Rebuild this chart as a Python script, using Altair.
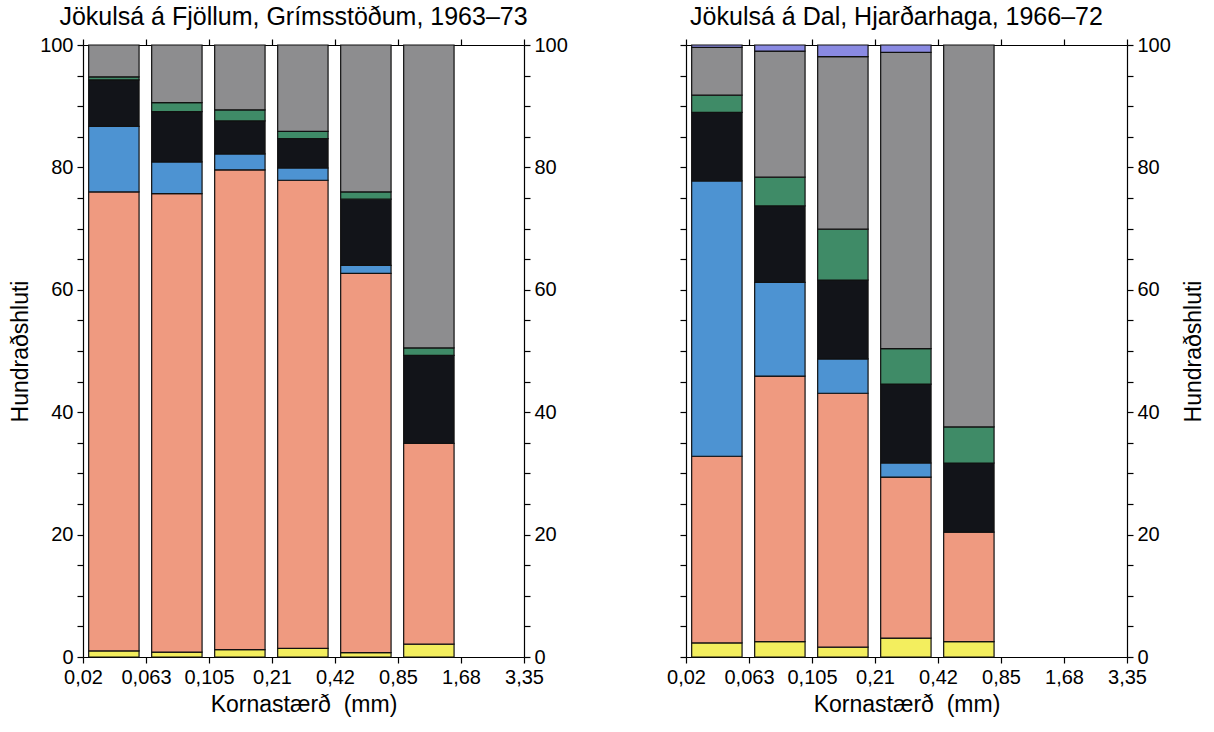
import altair as alt
import pandas as pd

bin_labels = ["0,02", "0,063", "0,105", "0,21", "0,42", "0,85", "1,68", "3,35"]
layers = ["yellow", "salmon", "blue", "black", "green", "gray", "purple"]
colors = ["#f3ee5e", "#ef9a80", "#4d93d2", "#121419", "#3f8b67", "#8d8d8f", "#8a8ae2"]

title_left = "Jökulsá á Fjöllum, Grímsstöðum, 1963–73"
title_right = "Jökulsá á Dal, Hjarðarhaga, 1966–72"
x_title = "Kornastærð\u00a0 (mm)"
y_title = "Hundraðshluti"

left_yellow = [1.0, 0.8, 1.2, 1.4, 0.7, 2.1]
left_salmon = [75.0, 74.9, 78.4, 76.5, 62.0, 32.8]
left_blue = [10.7, 5.2, 2.6, 2.0, 1.3, 0.0]
left_black = [7.6, 8.2, 5.4, 4.8, 10.8, 14.4]
left_green = [0.5, 1.5, 1.8, 1.2, 1.2, 1.2]
left_gray = [5.2, 9.4, 10.6, 14.1, 24.0, 49.5]
left_purple = [0.0, 0.0, 0.0, 0.0, 0.0, 0.0]

right_yellow = [2.3, 2.5, 1.6, 3.1, 2.5]
right_salmon = [30.5, 43.4, 41.5, 26.3, 17.9]
right_blue = [45.0, 15.3, 5.6, 2.3, 0.0]
right_black = [11.2, 12.5, 12.9, 12.9, 11.3]
right_green = [2.8, 4.7, 8.3, 5.8, 5.9]
right_gray = [7.8, 20.6, 28.2, 48.4, 62.4]
right_purple = [0.4, 1.0, 1.9, 1.2, 0.0]


def make_df(series):
    rows = []
    for k, (name, vals) in enumerate(zip(layers, series)):
        for i, v in enumerate(vals):
            rows.append({"bin": i, "layer": name, "order": k, "value": v})
    return pd.DataFrame(rows)


df_left = make_df([left_yellow, left_salmon, left_blue, left_black, left_green, left_gray, left_purple])
df_right = make_df([right_yellow, right_salmon, right_blue, right_black, right_green, right_gray, right_purple])

label_array = "[" + ",".join("'" + s + "'" for s in bin_labels) + "]"
FONT = "Liberation Sans"


def panel(df, title, left_labels, right_labels):
    base = (
        alt.Chart(df)
        .transform_filter("datum.value > 0")
        .transform_stack(stack="value", groupby=["bin"], as_=["y0", "y1"],
                         sort=[alt.SortField("order", order="ascending")])
        .transform_calculate(xa="datum.bin + 0.09", xb="datum.bin + 0.89")
    )
    xscale = alt.Scale(domain=[0, 7], nice=False, zero=False)
    yscale = alt.Scale(domain=[0, 100], nice=False)
    yvals = list(range(0, 101, 5))
    ylabel_expr = "datum.value % 20 == 0 ? datum.label : ''"
    color = alt.Color("layer:N", scale=alt.Scale(domain=layers, range=colors), legend=None)

    bars = base.mark_bar(stroke="#111111", strokeWidth=1.2).encode(
        x=alt.X("xa:Q", scale=xscale,
                axis=alt.Axis(values=list(range(8)), labelExpr=label_array + "[datum.value]",
                              labelOverlap=False, labelBound=False, labelFlush=False,
                              title=x_title, orient="bottom", titlePadding=6)),
        x2="xb:Q",
        y=alt.Y("y0:Q", scale=yscale,
                axis=alt.Axis(values=yvals, labelExpr=ylabel_expr, labels=left_labels,
                              labelOverlap=False, labelFlush=False,
                              title=y_title if left_labels else None, orient="left",
                              titlePadding=7)),
        y2="y1:Q",
        color=color,
    )
    frame = base.mark_bar(opacity=0, strokeOpacity=0).encode(
        x=alt.X("xa:Q", scale=xscale,
                axis=alt.Axis(values=list(range(8)), labels=False, title=None, orient="top")),
        x2="xb:Q",
        y=alt.Y("y0:Q", scale=yscale,
                axis=alt.Axis(values=yvals, labelExpr=ylabel_expr, labels=True,
                              labelOverlap=False, labelFlush=False,
                              title=y_title if right_labels else None, orient="right",
                              titleAngle=270, titleBaseline="top", titlePadding=12)),
        y2="y1:Q",
        color=color,
    )
    return (
        alt.layer(bars, frame)
        .resolve_axis(x="independent", y="independent")
        .properties(width=441, height=612,
                    title=alt.TitleParams(title, fontSize=25, fontWeight="normal", font=FONT,
                                          color="black", offset=5, dx=-10))
    )


chart = (
    alt.hconcat(panel(df_left, title_left, True, False),
                panel(df_right, title_right, False, True), spacing=98)
    .configure_axis(labelFont=FONT, labelFontSize=20, titleFont=FONT, titleFontSize=23,
                    titleFontWeight="normal", tickSize=6, grid=False, labelColor="black",
                    titleColor="black", domainColor="black", tickColor="black",
                    domainWidth=1.2, tickWidth=1.2, labelPadding=4)
    .configure_view(stroke=None)
    .properties(padding={"left": 9, "top": 5, "right": 5, "bottom": 5})
)

chart.save("out.html", embed_options={"renderer": "svg", "actions": False})
